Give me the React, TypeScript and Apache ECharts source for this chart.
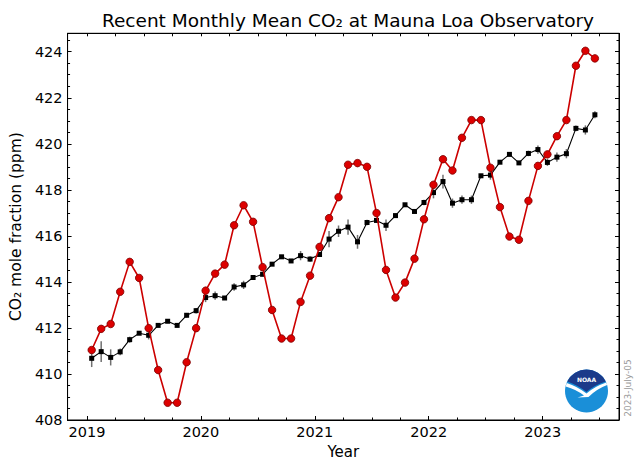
import React, { useEffect, useRef } from "react";
import * as echarts from "echarts";

const years = [2019, 2020, 2021, 2022, 2023];
const monthsPerYear = 12;

// Monthly mean CO2 (red)
const monthlyMean = [
  411.04, 411.96, 412.17, 413.57, 414.87, 414.17, 411.99, 410.17, 408.75, 408.75, 410.51, 411.99,
  413.62, 414.36, 414.75, 416.46, 417.33, 416.61, 414.64, 412.78, 411.54, 411.54, 413.13, 414.27,
  415.52, 416.77, 417.68, 419.09, 419.16, 419.0, 416.99, 414.52, 413.32, 413.97, 415.01, 416.72,
  418.22, 419.33, 418.84, 420.26, 421.03, 421.03, 418.96, 417.25, 415.97, 415.83, 417.52, 419.04,
  419.54, 420.33, 421.03, 423.39, 424.04, 423.71,
];

// Seasonally corrected (black)
const deseasonalized = [
  410.68, 410.97, 410.72, 410.96, 411.49, 411.77, 411.68, 412.11, 412.29, 412.11, 412.55, 412.75,
  413.32, 413.4, 413.3, 413.78, 413.87, 414.19, 414.33, 414.77, 415.09, 414.91, 415.14, 414.99,
  415.19, 415.86, 416.2, 416.38, 415.74, 416.58, 416.67, 416.46, 416.88, 417.35, 417.06, 417.45,
  417.88, 418.36, 417.42, 417.57, 417.57, 418.61, 418.64, 419.2, 419.54, 419.17, 419.58, 419.75,
  419.19, 419.42, 419.57, 420.67, 420.6, 421.26,
];

// Uncertainty of the seasonally corrected values
const uncertainty = [
  0.38, 0.45, 0.35, 0.15, 0.13, 0.08, 0.18, 0.08, 0.08, 0.08, 0.1, 0.12,
  0.2, 0.18, 0.08, 0.16, 0.18, 0.08, 0.08, 0.08, 0.08, 0.08, 0.2, 0.12,
  0.1, 0.35, 0.25, 0.33, 0.3, 0.12, 0.08, 0.25, 0.08, 0.08, 0.08, 0.12,
  0.25, 0.3, 0.2, 0.18, 0.18, 0.08, 0.2, 0.08, 0.08, 0.08, 0.12, 0.18,
  0.15, 0.2, 0.2, 0.12, 0.2, 0.15,
];

const yTickLabels = [408, 410, 412, 414, 416, 418, 420, 422, 424];
const xTickLabels = [2019, 2020, 2021, 2022, 2023];
const dateStamp = "2023-July-05";

const X_MIN = 2018.83;
const X_MAX = 2023.67;
const Y_MIN = 408;
const Y_MAX = 424.8;

const decimalDate = (i: number) =>
  years[0] + Math.floor(i / monthsPerYear) + ((i % monthsPerYear) + 0.5) / monthsPerYear;

const xMinor: number[] = [];
for (let v = 2019; v <= 2023.5 + 1e-9; v += 0.25) xMinor.push(+v.toFixed(2));
const yMinor: number[] = [];
for (let v = 408; v <= 424.5 + 1e-9; v += 0.5) yMinor.push(+v.toFixed(1));

const darkPath =
  "M -19.3 -9.5 A 21.5 21.5 0 0 1 19.3 -9.5 Q 8 -6 0 1 Q -9 -6 -19.3 -9.5 Z";
const whitePath =
  "M -19.8 -8 Q -9 -4.5 0 2.5 Q 8 -4.5 19.8 -8.5 L 20.6 -6 Q 10 -2 2 6 L -9 6.6 L -2.5 4.6 Q -10 -1.5 -20.8 -4.5 Z";

echarts.graphic.registerShape("noaaDark", echarts.graphic.extendPath(darkPath, {}));
echarts.graphic.registerShape("noaaWhite", echarts.graphic.extendPath(whitePath, {}));

const FONT = "DejaVu Sans";

export default function App() {
  const ref = useRef<HTMLDivElement>(null);
  useEffect(() => {
    if (!ref.current) return;
    const chart = echarts.init(ref.current, undefined, { renderer: "svg" });
    const redData = monthlyMean.map((v, i) => [decimalDate(i), v]);
    const blackData = deseasonalized.map((v, i) => [decimalDate(i), v]);
    const errData = deseasonalized.map((v, i) => [decimalDate(i), v, uncertainty[i]]);

    const baseX = {
      type: "value" as const,
      min: X_MIN,
      max: X_MAX,
      splitLine: { show: false },
      axisLine: { show: true, onZero: false, lineStyle: { color: "#000", width: 1 } },
    };
    const baseY = {
      type: "value" as const,
      min: Y_MIN,
      max: Y_MAX,
      splitLine: { show: false },
      axisLine: { show: true, onZero: false, lineStyle: { color: "#000", width: 1 } },
    };

    const dummy = (xi: number, yi: number) => ({
      type: "line",
      xAxisIndex: xi,
      yAxisIndex: yi,
      data: [],
      silent: true,
      showSymbol: false,
    });

    chart.setOption({
      animation: false,
      backgroundColor: "#fff",
      textStyle: { fontFamily: FONT },
      title: {
        text: "Recent Monthly Mean CO₂ at Mauna Loa Observatory",
        left: 343,
        top: 6,
        textAlign: "center",
        textStyle: { fontFamily: FONT, fontSize: 18.5, fontWeight: "normal", color: "#000" },
      },
      grid: {
        left: 66.7,
        top: 33.3,
        right: 21,
        bottom: 47,
        containLabel: false,
        show: true,
        borderColor: "#000",
        borderWidth: 1,
        backgroundColor: "transparent",
      },
      xAxis: [
        {
          ...baseX,
          position: "bottom",
          name: "Year",
          nameLocation: "middle",
          nameGap: 24,
          nameTextStyle: { fontFamily: FONT, fontSize: 15, color: "#000" },
          axisTick: { show: true, inside: true, length: 4, customValues: xTickLabels, lineStyle: { color: "#000" } },
          axisLabel: {
            show: true,
            customValues: xTickLabels,
            formatter: (v: number) => String(v),
            fontFamily: FONT,
            fontSize: 14.5,
            color: "#000",
            margin: 4,
          },
        },
        {
          ...baseX,
          position: "bottom",
          axisLine: { show: false },
          axisTick: { show: true, inside: true, length: 2.5, customValues: xMinor, lineStyle: { color: "#000" } },
          axisLabel: { show: false },
        },
        {
          ...baseX,
          position: "top",
          axisTick: { show: true, inside: true, length: 3, customValues: xMinor, lineStyle: { color: "#000" } },
          axisLabel: { show: false },
        },
      ],
      yAxis: [
        {
          ...baseY,
          position: "left",
          name: "CO₂ mole fraction (ppm)",
          nameLocation: "middle",
          nameGap: 41,
          nameTextStyle: { fontFamily: FONT, fontSize: 15.5, color: "#000" },
          axisTick: { show: true, inside: true, length: 4, customValues: yTickLabels, lineStyle: { color: "#000" } },
          axisLabel: {
            show: true,
            customValues: yTickLabels,
            formatter: (v: number) => String(v),
            fontFamily: FONT,
            fontSize: 14.5,
            color: "#000",
            margin: 5,
          },
        },
        {
          ...baseY,
          position: "left",
          axisLine: { show: false },
          axisTick: { show: true, inside: true, length: 2.5, customValues: yMinor, lineStyle: { color: "#000" } },
          axisLabel: { show: false },
        },
        {
          ...baseY,
          position: "right",
          axisTick: { show: true, inside: true, length: 4, customValues: yTickLabels, lineStyle: { color: "#000" } },
          axisLabel: { show: false },
        },
        {
          ...baseY,
          position: "right",
          axisLine: { show: false },
          axisTick: { show: true, inside: true, length: 2.5, customValues: yMinor, lineStyle: { color: "#000" } },
          axisLabel: { show: false },
        },
      ],
      series: [
        dummy(1, 1),
        dummy(2, 2),
        dummy(1, 3),
        {
          type: "custom",
          name: "uncertainty",
          xAxisIndex: 0,
          yAxisIndex: 0,
          z: 3,
          data: errData,
          renderItem: (params: any, api: any) => {
            const x = api.value(0);
            const y = api.value(1);
            const e = api.value(2);
            const p1 = api.coord([x, y - e]);
            const p2 = api.coord([x, y + e]);
            return {
              type: "line",
              shape: { x1: p1[0], y1: p1[1], x2: p2[0], y2: p2[1] },
              style: { stroke: "#707070", lineWidth: 1.5 },
            };
          },
        },
        {
          type: "line",
          name: "Seasonally corrected",
          xAxisIndex: 0,
          yAxisIndex: 0,
          z: 4,
          data: blackData,
          symbol: "rect",
          symbolSize: 5,
          showSymbol: true,
          lineStyle: { color: "#000", width: 1.1 },
          itemStyle: { color: "#000" },
        },
        {
          type: "line",
          name: "Monthly mean",
          xAxisIndex: 0,
          yAxisIndex: 0,
          z: 5,
          data: redData,
          symbol: "circle",
          symbolSize: 7.5,
          showSymbol: true,
          lineStyle: { color: "#cc0000", width: 1.6 },
          itemStyle: { color: "#dd0000", borderColor: "#7a0000", borderWidth: 0.8 },
        },
      ],
      graphic: [
        {
          type: "circle",
          shape: { cx: 586.5, cy: 391, r: 21.5 },
          style: { fill: "#1a8fd8" },
          z: 10,
        },
        {
          type: "noaaDark",
          x: 586.5,
          y: 391,
          style: { fill: "#1b3a8a" },
          z: 11,
        },
        {
          type: "noaaWhite",
          x: 586.5,
          y: 391,
          style: { fill: "#ffffff" },
          z: 12,
        },
        {
          type: "text",
          x: 586.5,
          y: 379,
          z: 13,
          style: {
            text: "NOAA",
            fill: "#fff",
            font: "bold 6px 'DejaVu Sans'",
            align: "center",
            verticalAlign: "middle",
          },
        },
        {
          type: "text",
          x: 628,
          y: 388,
          rotation: Math.PI / 2,
          z: 13,
          style: {
            text: dateStamp,
            fill: "#9a9a9a",
            font: "9px 'DejaVu Sans'",
            align: "center",
            verticalAlign: "middle",
          },
        },
      ],
    });
    return () => chart.dispose();
  }, []);
  return (
    <div
      ref={ref}
      style={{ position: "absolute", left: 0, top: 0, width: 640, height: 467 }}
    />
  );
}
